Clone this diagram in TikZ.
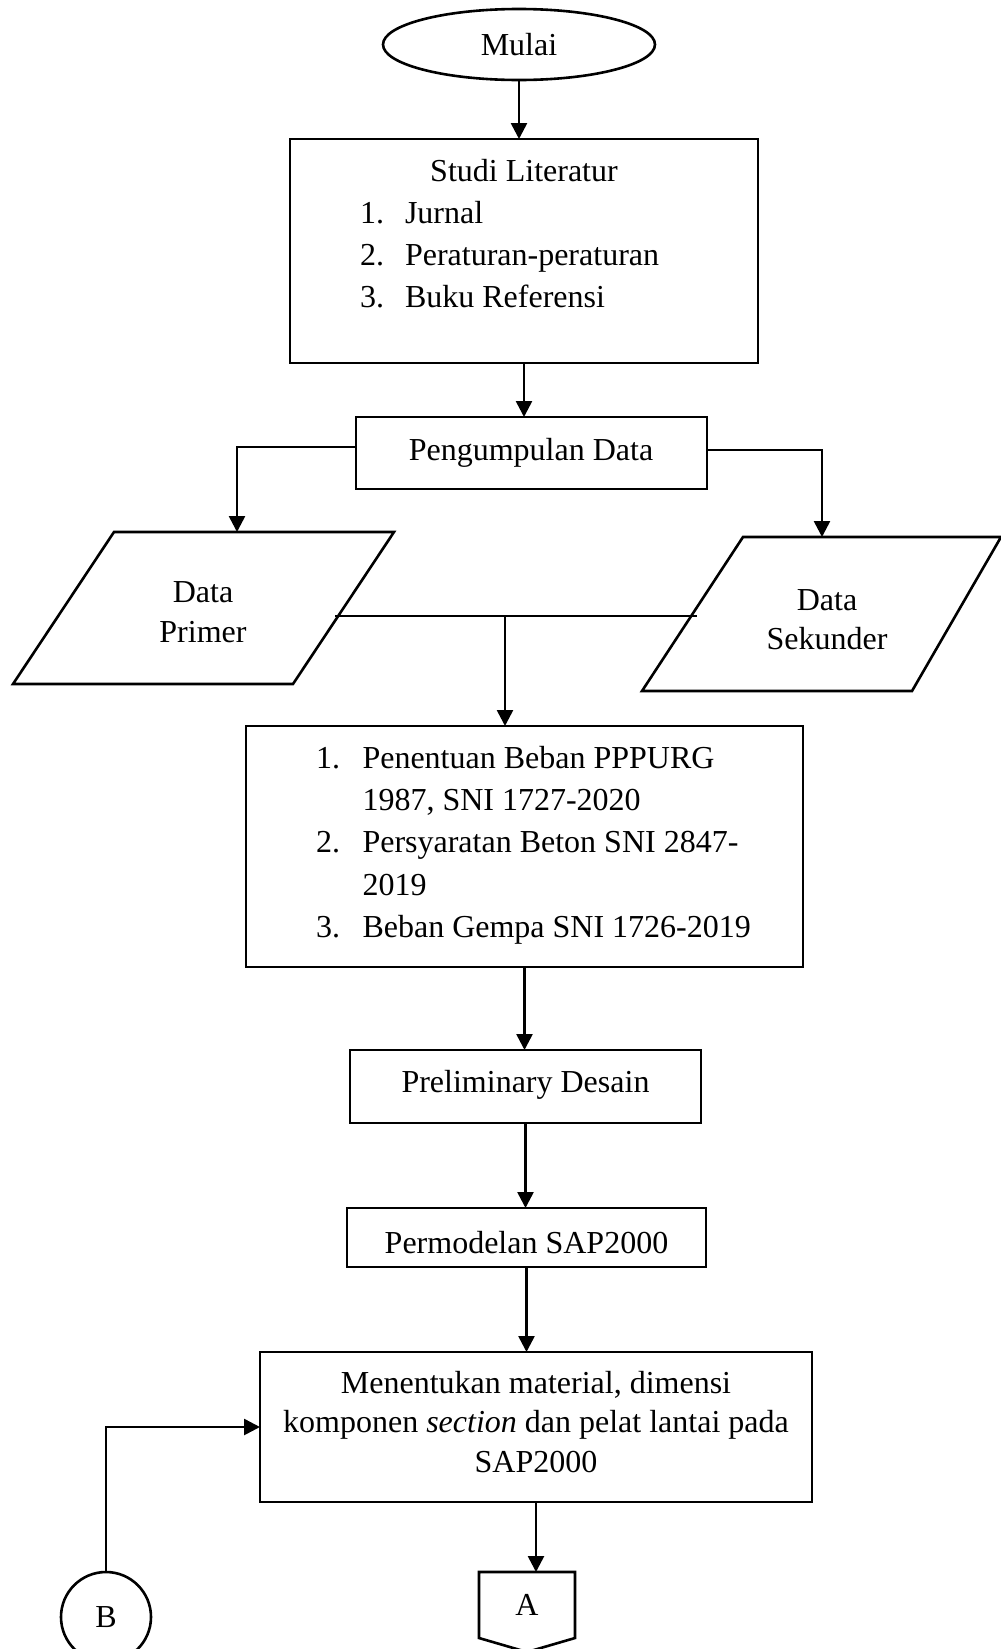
\documentclass[tikz,border=0pt]{standalone}
\usepackage{fontspec}
\setmainfont{Liberation Serif}
\usetikzlibrary{arrows.meta,shapes.geometric,calc}
\begin{document}
\begin{tikzpicture}[x=1pt,y=-1pt,line width=2.6pt,
  every node/.style={font=\fontsize{32}{40}\selectfont},
  shp/.style={draw,rectangle,inner sep=0pt,outer sep=0pt},
  txt/.style={anchor=base,inner sep=0pt,outer sep=0pt},
  ltxt/.style={anchor=base west,inner sep=0pt,outer sep=0pt},
  arr/.style={-{Triangle[length=16pt,width=16pt]}}]
\useasboundingbox (0,0) rectangle (1001,1649);

% start
\node[draw,ellipse,minimum width=272pt,minimum height=71pt,inner sep=0pt] (start) at (519,44.5) {Mulai};

% studi literatur
\node[shp,minimum width=468pt,minimum height=224pt] (sl) at (524,251) {};
\node[txt] (slt) at (524,181) {Studi Literatur};
\node[ltxt] (sl1n) at (360,223) {1.};
\node[ltxt] (sl1) at (405,223) {Jurnal};
\node[ltxt] (sl2n) at (360,265) {2.};
\node[ltxt] (sl2) at (405,265) {Peraturan-peraturan};
\node[ltxt] (sl3n) at (360,307) {3.};
\node[ltxt] (sl3) at (405,307) {Buku Referensi};

% pengumpulan data
\node[shp,minimum width=351pt,minimum height=72pt] (pd) at (531.5,453) {};
\node[txt] (pdt) at (531,460) {Pengumpulan Data};

% data primer
\coordinate (primtop) at (237,532);
\draw (114,532) -- (394,532) -- (293,684) -- (13,684) -- cycle;
\node[txt] (pr1) at (203,602) {Data};
\node[txt] (pr2) at (203,642) {Primer};

% data sekunder
\coordinate (sektop) at (822,537);
\draw (743,537) -- (1001,537) -- (912,691) -- (642,691) -- cycle;
\node[txt] (se1) at (827,610) {Data};
\node[txt] (se2) at (827,649) {Sekunder};

% join line
\coordinate (pm) at (335,616);
\coordinate (sm) at (697,616);
\coordinate (jn) at (505,616);

% beban box
\node[shp,minimum width=557pt,minimum height=241pt] (b3) at (524.5,846.5) {};
\node[ltxt] (b1n) at (316,768) {1.};
\node[ltxt] (b1) at (362.5,768) {Penentuan Beban PPPURG};
\node[ltxt] (b1b) at (362.5,810) {1987, SNI 1727-2020};
\node[ltxt] (b2n) at (316,852) {2.};
\node[ltxt] (b2) at (362.5,852) {Persyaratan Beton SNI 2847-};
\node[ltxt] (b2b) at (362.5,895) {2019};
\node[ltxt] (b3n) at (316,937) {3.};
\node[ltxt] (b3t) at (362.5,937) {Beban Gempa SNI 1726-2019};

% preliminary
\node[shp,minimum width=351pt,minimum height=73pt] (prel) at (525.5,1086.5) {};
\node[txt] (prelt) at (525.5,1092) {Preliminary Desain};

% permodelan
\node[shp,minimum width=359pt,minimum height=59pt] (perm) at (526.5,1237.5) {};
\node[txt] (permt) at (526.5,1253) {Permodelan SAP2000};

% menentukan
\node[shp,minimum width=552pt,minimum height=150pt] (ment) at (536,1427) {};
\node[txt] (m1) at (536,1393) {Menentukan material, dimensi};
\node[txt] (m2) at (536,1432) {komponen \textit{section} dan pelat lantai pada};
\node[txt] (m3) at (536,1472) {SAP2000};

% connectors A and B
\node[inner sep=0pt,outer sep=0pt,minimum width=96pt,minimum height=66pt] (aconn) at (527,1605) {A};
\draw (aconn.north west) -- (aconn.north east) -- (aconn.south east) -- ($(aconn.south)+(0,14)$) -- (aconn.south west) -- cycle;
\node[draw,circle,minimum size=90pt,inner sep=0pt,outer sep=0pt] (bconn) at (106,1617) {B};

% arrows
\draw[arr] (start.south) -- (start.south |- sl.north);
\draw[arr] (sl.south) -- (sl.south |- pd.north);
\draw[arr] ([yshift=6pt]pd.west) -| (primtop);
\draw[arr] ([yshift=3pt]pd.east) -| (sektop);
\draw (pm) -- (sm);
\draw[arr] (jn) -- (jn |- b3.north);
\draw[arr] (b3.south) -- (b3.south |- prel.north);
\draw[arr] (prel.south) -- (prel.south |- perm.north);
\draw[arr] (perm.south) -- (perm.south |- ment.north);
\draw[arr] (ment.south) -- (ment.south |- aconn.north);
\draw[arr] (bconn.north) |- (ment.west);
\end{tikzpicture}
\end{document}
